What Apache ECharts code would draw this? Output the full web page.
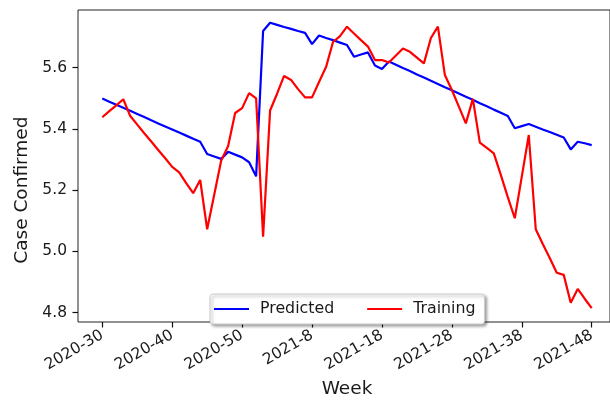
<!DOCTYPE html>
<html>
<head>
<meta charset="utf-8">
<script src="https://cdn.jsdelivr.net/npm/echarts@6/dist/echarts.min.js"></script>
<style>
  html, body { margin: 0; padding: 0; background: #fff; }
  #chart { width: 610px; height: 407px; }
</style>
</head>
<body>
<div id="chart"></div>
<script>
const weeks = [
  '2020-30','2020-31','2020-32','2020-33','2020-34','2020-35','2020-36','2020-37','2020-38','2020-39',
  '2020-40','2020-41','2020-42','2020-43','2020-44','2020-45','2020-46','2020-47','2020-48','2020-49',
  '2020-50','2020-51','2020-52','2021-1','2021-2','2021-3','2021-4','2021-5','2021-6','2021-7',
  '2021-8','2021-9','2021-10','2021-11','2021-12','2021-13','2021-14','2021-15','2021-16','2021-17',
  '2021-18','2021-19','2021-20','2021-21','2021-22','2021-23','2021-24','2021-25','2021-26','2021-27',
  '2021-28','2021-29','2021-30','2021-31','2021-32','2021-33','2021-34','2021-35','2021-36','2021-37',
  '2021-38','2021-39','2021-40','2021-41','2021-42','2021-43','2021-44','2021-45','2021-46','2021-47',
  '2021-48'
];
const tickLabels = ['2020-30','2020-40','2020-50','2021-8','2021-18','2021-28','2021-38','2021-48'];
const yTicks = [4.8, 5.0, 5.2, 5.4, 5.6];

const predicted = [
  5.499, 5.489, 5.479, 5.469, 5.459, 5.449, 5.439, 5.428, 5.418, 5.408,
  5.398, 5.388, 5.378, 5.368, 5.358, 5.318, 5.310, 5.302, 5.325, 5.316,
  5.307, 5.291, 5.245, 5.720, 5.747, 5.740, 5.733, 5.727, 5.720, 5.714,
  5.677, 5.705, 5.697, 5.690, 5.682, 5.674, 5.636, 5.643, 5.650, 5.607,
  5.596, 5.620, 5.610, 5.599, 5.589, 5.578, 5.568, 5.557, 5.547, 5.536,
  5.526, 5.516, 5.505, 5.495, 5.484, 5.474, 5.463, 5.453, 5.442, 5.402,
  5.409, 5.416, 5.407, 5.398, 5.390, 5.381, 5.372, 5.333, 5.358, 5.353,
  5.347
];
const training = [
  5.438, 5.458, 5.477, 5.497, 5.442, 5.414, 5.386, 5.359, 5.331, 5.304,
  5.276, 5.258, 5.223, 5.190, 5.233, 5.072, 5.184, 5.296, 5.344, 5.452,
  5.468, 5.517, 5.500, 5.048, 5.460, 5.515, 5.573, 5.560, 5.530, 5.503,
  5.503, 5.553, 5.602, 5.684, 5.703, 5.734, 5.712, 5.690, 5.669, 5.625,
  5.625, 5.617, 5.640, 5.663, 5.652, 5.633, 5.614, 5.697, 5.734, 5.576,
  5.527, 5.473, 5.418, 5.498, 5.355, 5.338, 5.320, 5.250, 5.177, 5.108,
  5.244, 5.380, 5.072, 5.024, 4.978, 4.930, 4.923, 4.832, 4.877, 4.845,
  4.814
];

const FONT = 'DejaVu Sans';
const TXT = '#1a1a1a';
const AXC = '#222';
const isTick = (idx) => tickLabels.indexOf(weeks[idx]) >= 0;

const chart = echarts.init(document.getElementById('chart'), null, { renderer: 'canvas' });
chart.setOption({
  animation: false,
  backgroundColor: '#fff',
  grid: [
    // data grid: spans first..last category and the 4.8..5.6 tick range
    { left: 102.3, right: 18.3, top: 67.7, bottom: 94.5, show: false },
    // frame (axes box)
    { left: 78, top: 10, width: 538, height: 312, show: true,
      borderColor: AXC, borderWidth: 1, backgroundColor: 'transparent' }
  ],
  legend: {
    data: ['Predicted', 'Training'],
    left: 210, top: 294,
    icon: 'rect',
    itemWidth: 35, itemHeight: 2.2, itemGap: 33,
    padding: [7, 9, 7, 4],
    backgroundColor: '#fff',
    borderColor: '#cccccc', borderWidth: 1, borderRadius: 3,
    shadowBlur: 3, shadowColor: 'rgba(0,0,0,0.35)', shadowOffsetX: 2, shadowOffsetY: 2,
    textStyle: { fontFamily: FONT, fontSize: 15.8, color: TXT, padding: [0, 0, 0, 6] }
  },
  xAxis: [
    {
      gridIndex: 0, type: 'category', data: weeks, boundaryGap: false,
      position: 'bottom', offset: 9.5,
      name: 'Week', nameLocation: 'middle', nameGap: 53,
      nameTextStyle: { fontFamily: FONT, fontSize: 18.5, color: TXT },
      axisLine: { show: true, onZero: false, lineStyle: { color: 'rgba(0,0,0,0)', width: 1 } },
      axisTick: { show: true, inside: false, length: 5.5, lineStyle: { color: '#111', width: 1.2 }, interval: (i) => isTick(i) },
      axisLabel: {
        show: true,
        interval: (i) => isTick(i),
        rotate: 30, margin: 12,
        fontFamily: FONT, fontSize: 15.5, color: TXT
      },
      splitLine: { show: false }
    },
    { gridIndex: 1, type: 'value', min: 0, max: 1, show: false }
  ],
  yAxis: [
    {
      gridIndex: 0, type: 'value',
      min: 4.8, max: 5.6, interval: 0.2,
      position: 'left', offset: 24.3,
      name: 'Case Confirmed', nameLocation: 'middle', nameGap: 45, nameRotate: 90,
      nameTextStyle: { fontFamily: FONT, fontSize: 18.5, color: TXT },
      axisLine: { show: true, onZero: false, lineStyle: { color: 'rgba(0,0,0,0)', width: 1 } },
      axisTick: { show: true, inside: false, length: 5.5, lineStyle: { color: '#111', width: 1.2 } },
      axisLabel: {
        show: true,
        formatter: v => v.toFixed(1),
        margin: 11,
        fontFamily: FONT, fontSize: 15.5, color: TXT
      },
      splitLine: { show: false }
    },
    { gridIndex: 1, type: 'value', min: 0, max: 1, show: false }
  ],
  series: [
    {
      name: 'Predicted', type: 'line', xAxisIndex: 0, yAxisIndex: 0,
      data: predicted, clip: false,
      symbol: 'none', showSymbol: false,
      lineStyle: { color: '#0000ff', width: 2.2 },
      itemStyle: { color: '#0000ff' }
    },
    {
      name: 'Training', type: 'line', xAxisIndex: 0, yAxisIndex: 0,
      data: training, clip: false,
      symbol: 'none', showSymbol: false,
      lineStyle: { color: '#ff0000', width: 2.2 },
      itemStyle: { color: '#ff0000' }
    }
  ]
});
</script>
</body>
</html>
